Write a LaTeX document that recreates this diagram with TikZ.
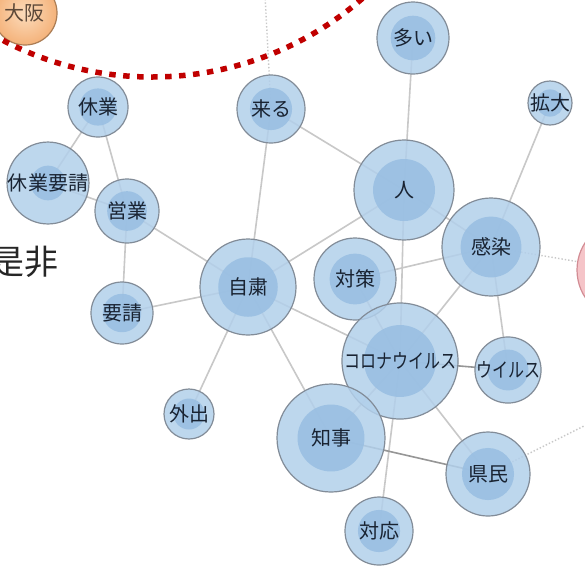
\documentclass[tikz,border=0pt]{standalone}
\usepackage{fontspec}
\newfontfamily\jpfont{Noto Sans CJK JP}
\usetikzlibrary{backgrounds}
\definecolor{ringblue}{RGB}{178,208,235}
\definecolor{coreblue}{RGB}{152,190,226}
\definecolor{rimgray}{RGB}{130,140,152}
\definecolor{edgegray}{RGB}{200,200,200}
\definecolor{strongedge}{RGB}{150,150,150}
\definecolor{labelink}{RGB}{25,35,50}
\definecolor{osakaorange}{RGB}{244,178,122}
\definecolor{osakalight}{RGB}{252,220,188}
\definecolor{pinkfill}{RGB}{245,196,200}
\definecolor{pinkrim}{RGB}{210,140,148}
\definecolor{dotred}{RGB}{192,0,0}
\newcommand\kana[1]{\scalebox{0.8}[1]{#1}}
\tikzset{
  word/.style={circle, draw=rimgray, line width=1.2pt, fill=ringblue, fill opacity=0.85,
    text opacity=1, text=labelink, inner sep=0pt, font=\jpfont\fontsize{20}{20}\selectfont},
  link/.style={draw=edgegray, line width=1.6pt},
  strong/.style={draw=strongedge, line width=1.6pt},
  faint/.style={draw=edgegray, line width=1.4pt, dotted}
}

\begin{document}
\begin{tikzpicture}[x=1pt,y=-1pt]
  \useasboundingbox (0,0) rectangle (585,566);
  \node[circle, draw=pinkrim, line width=1.2pt, fill=pinkfill, minimum size=100pt] (pink) at (627,270) {};
  \node[circle, draw=osakaorange!70!black, line width=1.2pt, inner color=osakalight, outer color=osakaorange,
    minimum size=64pt, text=labelink!60!brown, font=\jpfont\fontsize{20}{20}\selectfont] (osaka) at (25,13) {大阪};
  \node[anchor=east, text=black!85, font=\jpfont\fontsize{34}{34}\selectfont] (zehi) at (62,262) {是非};
  \foreach \n/\x/\y/\r/\t in {kyugyo/98/107/30/休業, yosei1/48/183/28/休業要請, eigyo/127/211/32/営業,
      kuru/271/109/34/来る, ooi/413/38/36/多い, kakudai/550/103/22/拡大, hito/404/190/50/人,
      kansen/491/247/49/感染, taisaku/355/279/41/対策, jishuku/248/287/48/自粛, yosei/122/313/31/要請,
      gaishutsu/189/414/25/外出, corona/400/361/58/\kana{コロナウイルス}, virus/508/370/33/\kana{ウイルス},
      chiji/331/438/54/知事, kenmin/488/474/42/県民, taiou/379/531/34/対応}
    \node[word, minimum size={2*\r pt},
      path picture={\fill[coreblue] (path picture bounding box.center) circle ({0.62*\r pt});}]
      (\n) at (\x,\y) {\t};
  \coordinate (kuruout) at (265,-5);
  \coordinate (kenminout) at (600,418);
  \begin{scope}[on background layer]
    \fill[white] (0,0) rectangle (585,566);
    \foreach \a/\b in {kyugyo/yosei1, kyugyo/eigyo, yosei1/eigyo, eigyo/yosei, eigyo/jishuku,
        kuru/jishuku, kuru/hito, ooi/hito, kakudai/kansen, hito/jishuku, hito/corona, hito/kansen,
        taisaku/kansen, taisaku/corona, kansen/corona, kansen/virus, jishuku/corona, jishuku/yosei,
        jishuku/gaishutsu, jishuku/chiji, corona/chiji, corona/kenmin, corona/taiou}
      \draw[link] (\a.center) -- (\b.center);
    \draw[strong] (corona.center) -- (virus.center);
    \draw[strong] (chiji.center) -- (kenmin.center);
    \draw[faint] (kuru.center) -- (kuruout);
    \draw[faint] (kansen.center) -- (pink.center);
    \draw[faint] (kenmin.center) -- (kenminout);
  \end{scope}
  \draw[dotred, line width=5.5pt, dash pattern=on 6.5pt off 7.5pt] (152,-244) circle (321pt);
\end{tikzpicture}
\end{document}
